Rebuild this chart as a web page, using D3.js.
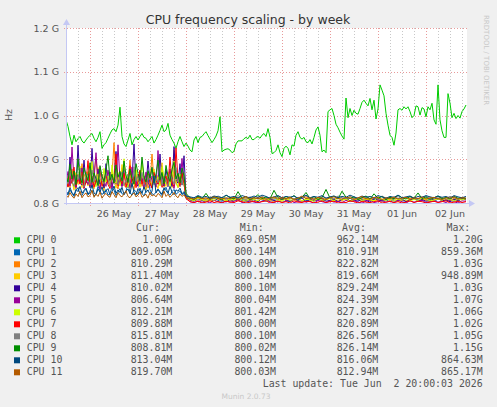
<!DOCTYPE html>
<html lang="en">
<head>
  <meta charset="UTF-8" />
  <title>CPU frequency scaling - by week</title>
  <script src="https://d3js.org/d3.v7.min.js"></script>
  <style>
    html, body { margin: 0; padding: 0; background: #f0f0f0; }
    svg { display: block; }
    text { font-family: "DejaVu Sans", sans-serif; fill: #555; }
    .mono { font-family: "DejaVu Sans Mono", monospace; font-size: 9.9px; white-space: pre; }
  </style>
</head>
<body>
  <svg width="497" height="407"></svg>

  <script>
    // Time window of the graph (UTC): 25 May 12:00 -> 02 Jun 20:00
    const startTime = Date.UTC(2026, 4, 25, 12);
    const endTime = Date.UTC(2026, 5, 2, 20);

    // sampling grids in hours from startTime
    const hoursFine = d3.range(0, 201);                                  // CPU 0, hourly
    const hoursMixed = d3.range(0, 61).concat(d3.range(62, 201, 2));     // others: hourly, then every 2h

    // values in MHz
    const cpu0 = [
      990, 975, 952, 933, 955, 940, 947, 952, 942, 937,
      944, 950, 955, 959, 948, 940, 950, 963, 925, 933,
      938, 948, 958, 967, 970, 963, 978, 1019, 952, 935,
      929, 944, 959, 933, 945, 952, 944, 952, 959, 950,
      948, 940, 946, 952, 937, 945, 955, 966, 978, 963,
      967, 982, 955, 945, 937, 925, 940, 952, 940, 929,
      937, 930, 921, 917, 944, 952, 938, 950, 952, 958,
      963, 954, 946, 938, 945, 953, 965, 997, 917, 921,
      923, 924, 921, 915, 918, 935, 942, 942, 942, 947,
      950, 947, 955, 945, 945, 950, 952, 948, 955, 959,
      952, 970, 950, 913, 915, 920, 933, 915, 906, 925,
      930, 925, 910, 933, 930, 955, 963, 950, 946, 950,
      940, 938, 945, 935, 950, 967, 974, 955, 917, 921,
      915, 1009, 1013, 1016, 1000, 980, 972, 962, 953, 946,
      1040, 995, 1016, 1000, 1012, 1005, 1003, 1016, 1030, 1035,
      1028, 1022, 1039, 1013, 1035, 992, 1015, 1070, 1058, 1045,
      1005, 978, 955, 950, 932, 960, 1013, 1016, 1012, 1020,
      1015, 1020, 1009, 995, 1000, 1022, 1020, 1001, 1018, 1015,
      997, 1020, 1013, 1028, 990, 980, 1070, 990, 965, 950,
      950, 1050, 1028, 995, 1005, 993, 1000, 994, 1009, 1015,
      1024
    ];
    const cpu1 = [
      825, 818, 830, 822, 815, 828, 835, 820, 817, 826,
      832, 819, 823, 829, 816, 821, 838, 827, 819, 824,
      831, 818, 822, 836, 829, 817, 825, 833, 821, 819,
      827, 845, 824, 818, 830, 826, 820, 834, 822, 816,
      828, 857, 830, 821, 819, 825, 832, 823, 817, 829,
      836, 822, 818, 826, 831, 820, 824, 828, 819, 823,
      812,
      808, 805, 811, 807, 803, 809, 812, 806, 804, 810,
      807, 805, 813, 808, 806, 802, 809, 811, 807, 804,
      810, 806, 808, 812, 805, 803, 809, 807, 811, 806,
      804, 808, 810, 805, 807, 813, 806, 803, 809, 808,
      805, 811, 807, 804, 810, 806, 808, 812, 805, 807,
      803, 809, 811, 806, 804, 808, 810, 807, 805, 812,
      806, 803, 809, 808, 805, 811, 807, 804, 810, 809
    ];
    const cpu2 = [
      842, 861, 835, 878, 850, 832, 866, 845, 890, 838,
      855, 872, 840, 836, 868, 905, 848, 833, 860, 842,
      875, 850, 838, 862, 938, 846, 832, 858, 880, 841,
      835, 852, 898, 845, 830, 866, 842, 875, 838, 850,
      868, 834, 846, 912, 851, 837, 863, 842, 881, 836,
      855, 847, 873, 839, 921, 848, 835, 862, 845, 868,
      815,
      810, 807, 813, 809, 806, 812, 815, 808, 811, 806,
      809, 814, 807, 810, 812, 805, 809, 813, 808, 811,
      806, 810, 815, 809, 807, 812, 808, 805, 811, 814,
      809, 806, 812, 810, 807, 813, 808, 811, 806, 809,
      815, 810, 807, 812, 809, 806, 811, 814, 808, 810,
      807, 812, 809, 806, 813, 810, 808, 811, 807, 809,
      814, 806, 810, 812, 808, 805, 811, 809, 813, 810
    ];
    const cpu3 = [
      848, 836, 862, 851, 829, 870, 843, 855, 835, 866,
      852, 839, 874, 846, 832, 858, 881, 840, 853, 828,
      865, 849, 837, 871, 856, 834, 862, 845, 888, 839,
      851, 866, 833, 858, 842, 875, 850, 836, 864, 847,
      830, 869, 854, 841, 878, 846, 833, 860, 892, 849,
      838, 867, 853, 835, 872, 845, 859, 837, 866, 850,
      814,
      806, 809, 803, 808, 811, 805, 807, 802, 810, 806,
      804, 809, 807, 803, 811, 806, 808, 804, 810, 805,
      807, 802, 809, 806, 812, 804, 808, 805, 803, 810,
      807, 804, 809, 806, 811, 803, 808, 805, 807, 810,
      804, 806, 809, 803, 808, 811, 805, 807, 804, 809,
      806, 810, 803, 808, 805, 807, 811, 804, 809, 806,
      803, 808, 810, 805, 807, 804, 809, 806, 811, 807
    ];
    const cpu4 = [
      860, 838, 905, 845, 872, 836, 932, 850, 841, 898,
      846, 866, 835, 925, 852, 840, 878, 843, 861, 834,
      890, 848, 871, 837, 856, 918, 842, 865, 839, 884,
      847, 836, 868, 852, 935, 845, 838, 874, 850, 862,
      841, 896, 849, 835, 870, 858, 843, 912, 846, 839,
      877, 851, 864, 838, 929, 853, 845, 890, 841, 908,
      816,
      807, 804, 810, 806, 803, 809, 805, 811, 807, 802,
      808, 805, 810, 806, 804, 809, 807, 803, 811, 805,
      808, 806, 802, 810, 807, 804, 809, 806, 811, 803,
      808, 805, 807, 810, 804, 806, 809, 803, 808, 811,
      805, 807, 804, 809, 806, 802, 810, 807, 805, 808,
      811, 804, 806, 809, 803, 807, 810, 805, 808, 804,
      806, 809, 811, 805, 807, 803, 808, 806, 810, 807
    ];
    const cpu5 = [
      845, 872, 839, 928, 851, 836, 864, 847, 880, 833,
      857, 842, 868, 836, 853, 915, 845, 831, 866, 850,
      838, 875, 847, 834, 861, 843, 933, 852, 837, 870,
      846, 858, 835, 882, 849, 840, 866, 844, 856, 833,
      871, 847, 838, 862, 851, 836, 920, 848, 865, 842,
      854, 837, 878, 846, 833, 861, 849, 838, 902, 844,
      813,
      803, 801, 805, 802, 804, 800, 806, 803, 801, 805,
      802, 804, 807, 801, 803, 805, 802, 800, 804, 806,
      803, 801, 805, 802, 804, 807, 801, 803, 805, 802,
      804, 800, 806, 803, 801, 805, 802, 804, 801, 806,
      803, 805, 802, 800, 804, 807, 801, 803, 805, 802,
      804, 801, 806, 803, 800, 805, 802, 804, 806, 801,
      803, 805, 802, 804, 801, 806, 803, 800, 805, 804
    ];
    const cpu6 = [
      856, 842, 875, 849, 836, 868, 852, 884, 845, 839,
      871, 858, 843, 895, 850, 837, 866, 854, 841, 879,
      848, 862, 836, 887, 852, 845, 870, 839, 858, 901,
      847, 836, 865, 851, 843, 876, 849, 838, 892, 855,
      841, 868, 850, 837, 873, 846, 860, 839, 883, 852,
      844, 871, 838, 859, 896, 847, 836, 866, 851, 842,
      817,
      808, 805, 811, 807, 804, 810, 806, 813, 808, 805,
      809, 806, 812, 807, 804, 810, 808, 805, 811, 806,
      809, 813, 807, 804, 810, 806, 808, 812, 805, 809,
      807, 804, 811, 806, 808, 810, 805, 812, 807, 809,
      804, 808, 811, 806, 810, 807, 805, 813, 808, 806,
      810, 804, 809, 807, 812, 805, 808, 806, 811, 809,
      805, 807, 810, 806, 812, 808, 804, 809, 807, 810
    ];
    const cpu7 = [
      851, 837, 866, 845, 882, 839, 856, 843, 871, 834,
      848, 897, 840, 862, 836, 853, 845, 878, 838, 850,
      866, 842, 833, 858, 846, 912, 839, 855, 844, 868,
      837, 852, 885, 841, 860, 835, 849, 874, 843, 857,
      838, 866, 847, 834, 870, 851, 843, 859, 836, 848,
      862, 840, 905, 846, 838, 926, 852, 841, 869, 845,
      810,
      803, 801, 804, 800, 802, 805, 801, 803, 800, 804,
      802, 801, 805, 803, 800, 802, 804, 801, 803, 805,
      800, 802, 804, 801, 803, 800, 805, 802, 801, 804,
      803, 800, 802, 805, 801, 803, 804, 800, 802, 801,
      805, 803, 800, 804, 802, 801, 803, 805, 800, 802,
      804, 801, 803, 800, 802, 805, 801, 804, 803, 800,
      802, 804, 801, 803, 805, 800, 802, 804, 801, 803
    ];
    const cpu8 = [
      858, 844, 871, 850, 838, 864, 853, 880, 845, 836,
      868, 852, 841, 875, 848, 860, 839, 886, 851, 843,
      869, 855, 837, 862, 848, 877, 842, 856, 871, 840,
      852, 866, 845, 838, 883, 850, 861, 843, 870, 846,
      837, 864, 853, 879, 842, 858, 846, 873, 840, 861,
      850, 838, 867, 855, 843, 881, 848, 860, 841, 869,
      818,
      812, 809, 815, 811, 808, 814, 810, 816, 812, 809,
      813, 810, 817, 811, 808, 814, 812, 809, 815, 811,
      813, 808, 816, 812, 810, 814, 809, 813, 811, 817,
      810, 812, 808, 815, 811, 813, 809, 816, 812, 810,
      814, 811, 808, 813, 815, 810, 812, 809, 816, 811,
      813, 810, 815, 808, 812, 814, 811, 809, 813, 816,
      810, 812, 814, 809, 811, 815, 812, 808, 813, 811
    ];
    const cpu9 = [
      862, 848, 889, 855, 873, 842, 901, 858, 846, 880,
      864, 851, 892, 847, 869, 856, 840, 884, 861, 849,
      875, 908, 852, 866, 845, 887, 859, 872, 850, 896,
      863, 847, 878, 856, 843, 890, 868, 851, 905, 860,
      848, 874, 857, 882, 846, 865, 898, 853, 870, 844,
      886, 861, 849, 877, 893, 855, 868, 846, 880, 862,
      822,
      812, 808, 816, 810, 822, 809, 814, 811, 807, 818,
      813, 809, 826, 811, 815, 808, 812, 819, 810, 814,
      809, 829, 812, 808, 815, 811, 817, 809, 813, 824,
      810, 815, 808, 812, 831, 811, 816, 809, 827, 813,
      810, 814, 808, 812, 816, 809, 821, 811, 815, 808,
      813, 810, 818, 812, 809, 815, 811, 823, 810, 814,
      808, 812, 816, 810, 813, 809, 815, 811, 812, 810
    ];
    const cpu10 = [
      828, 821, 835, 824, 818, 831, 826, 838, 822, 829,
      834, 820, 827, 841, 823, 819, 832, 825, 837, 821,
      828, 833, 818, 826, 839, 822, 830, 824, 836, 819,
      827, 832, 821, 845, 825, 818, 833, 828, 822, 837,
      824, 830, 819, 827, 862, 823, 831, 826, 820, 835,
      828, 822, 838, 825, 819, 830, 827, 834, 821, 826,
      816,
      814, 812, 817, 813, 815, 811, 816, 814, 812, 818,
      813, 815, 811, 817, 814, 812, 816, 813, 818, 815,
      811, 814, 817, 812, 815, 813, 816, 811, 814, 818,
      812, 815, 813, 817, 811, 814, 816, 812, 815, 813,
      818, 814, 811, 816, 813, 815, 812, 817, 814, 811,
      815, 813, 818, 812, 814, 816, 811, 815, 813, 817,
      814, 812, 816, 813, 815, 811, 817, 814, 812, 815
    ];
    const cpu11 = [
      818, 813, 824, 816, 811, 821, 815, 827, 812, 819,
      823, 814, 817, 829, 813, 820, 815, 825, 811, 818,
      822, 816, 813, 826, 819, 812, 824, 817, 814, 821,
      828, 815, 812, 819, 823, 814, 818, 826, 813, 817,
      820, 811, 825, 816, 819, 814, 822, 818, 812, 827,
      815, 820, 813, 818, 824, 816, 812, 821, 815, 819,
      811,
      811, 809, 813, 810, 812, 808, 814, 811, 809, 812,
      810, 813, 808, 811, 815, 809, 812, 810, 813, 808,
      811, 814, 809, 812, 810, 813, 808, 811, 816, 810,
      812, 809, 813, 811, 808, 812, 814, 810, 809, 813,
      811, 808, 812, 815, 810, 809, 813, 811, 808, 812,
      810, 814, 809, 811, 813, 808, 812, 810, 814, 809,
      811, 813, 810, 808, 812, 811, 814, 809, 812, 811
    ];

    const cpuNames = ["CPU 0", "CPU 1", "CPU 2", "CPU 3", "CPU 4", "CPU 5",
                      "CPU 6", "CPU 7", "CPU 8", "CPU 9", "CPU 10", "CPU 11"];
    const cpuColors = ["#00CC00", "#0066B3", "#FF8000", "#FFCC00", "#330099", "#990099",
                       "#CCFF00", "#FF0000", "#808080", "#008F00", "#00487D", "#B35A00"];
    const curVals = ["1.00G", "809.05M", "810.29M", "811.40M", "810.02M", "806.64M",
                     "812.21M", "809.88M", "815.81M", "808.81M", "813.04M", "819.70M"];
    const minVals = ["869.05M", "800.14M", "800.09M", "800.14M", "800.10M", "800.04M",
                     "801.42M", "800.00M", "800.10M", "800.02M", "800.12M", "800.03M"];
    const avgVals = ["962.14M", "810.91M", "822.82M", "819.66M", "829.24M", "824.39M",
                     "827.82M", "820.89M", "826.56M", "826.14M", "816.06M", "812.94M"];
    const maxVals = ["1.20G", "859.36M", "1.03G", "948.89M", "1.03G", "1.07G",
                     "1.06G", "1.02G", "1.05G", "1.15G", "864.63M", "865.17M"];
    const yTicks = [800, 900, 1000, 1100, 1200];
    const lastUpdate = "Last update: Tue Jun  2 20:00:03 2026";

    const allValues = [cpu0, cpu1, cpu2, cpu3, cpu4, cpu5, cpu6, cpu7, cpu8, cpu9, cpu10, cpu11];

    const svg = d3.select("svg");
    const plot = { left: 66, right: 467, top: 28, bottom: 203 };

    const x = d3.scaleUtc()
      .domain([startTime, endTime])
      .range([plot.left, plot.right - 1]);
    const y = d3.scaleLinear()
      .domain([800, 1200])
      .range([plot.bottom, plot.top]);

    // plot background
    svg.append("rect")
      .attr("x", plot.left).attr("y", plot.top)
      .attr("width", plot.right - plot.left).attr("height", plot.bottom - plot.top)
      .attr("fill", "#fff");

    // vertical grid: grey every 6 hours, red at midnight
    const sixHours = d3.utcHour.every(6).range(new Date(startTime), new Date(endTime + 1));
    const grid = svg.append("g").attr("shape-rendering", "crispEdges");
    grid.selectAll(".vminor")
      .data(sixHours.filter(d => d.getUTCHours() !== 0))
      .join("line")
      .attr("x1", d => Math.round(x(d)) + 0.5).attr("x2", d => Math.round(x(d)) + 0.5)
      .attr("y1", plot.top).attr("y2", plot.bottom + 2)
      .attr("stroke", "#c8c8c8").attr("stroke-dasharray", "1,2");
    const midnights = d3.utcDay.range(new Date(startTime), new Date(endTime));
    grid.selectAll(".vmajor")
      .data(midnights)
      .join("line")
      .attr("x1", d => Math.round(x(d)) + 0.5).attr("x2", d => Math.round(x(d)) + 0.5)
      .attr("y1", plot.top).attr("y2", plot.bottom + 3)
      .attr("stroke", "#e89a9a").attr("stroke-dasharray", "1,2");
    grid.selectAll(".hmajor")
      .data(yTicks)
      .join("line")
      .attr("x1", plot.left - 2).attr("x2", plot.right)
      .attr("y1", d => Math.round(y(d)) + 0.5).attr("y2", d => Math.round(y(d)) + 0.5)
      .attr("stroke", "#e89a9a").attr("stroke-dasharray", "1,2");

    // series
    svg.append("clipPath").attr("id", "plotclip")
      .append("rect")
      .attr("x", plot.left).attr("y", plot.top - 1)
      .attr("width", plot.right - plot.left).attr("height", plot.bottom - plot.top + 2);

    const line = d3.line()
      .x(d => x(startTime + d.h * 3600e3))
      .y(d => y(d.v));

    const series = cpuNames.map((name, i) => {
      const hours = i === 0 ? hoursFine : hoursMixed;
      const vals = allValues[i];
      const n = Math.min(hours.length, vals.length);
      return { name, color: cpuColors[i], points: d3.range(n).map(k => ({ h: hours[k], v: vals[k] })) };
    });

    svg.append("g").attr("clip-path", "url(#plotclip)")
      .selectAll("path")
      .data(series)
      .join("path")
      .attr("fill", "none")
      .attr("stroke", d => d.color)
      .attr("stroke-width", 1)
      .attr("stroke-linejoin", "round")
      .attr("d", d => line(d.points));

    // axes with arrows
    const axisColor = "#c4c8f4";
    svg.append("line")
      .attr("x1", plot.left + 0.5).attr("x2", plot.left + 0.5)
      .attr("y1", plot.bottom + 2).attr("y2", plot.top - 4)
      .attr("stroke", axisColor).attr("shape-rendering", "crispEdges");
    svg.append("path")
      .attr("d", `M${plot.left - 3},${plot.top - 3}L${plot.left + 0.5},${plot.top - 9}L${plot.left + 4},${plot.top - 3}Z`)
      .attr("fill", axisColor);
    svg.append("line")
      .attr("x1", plot.left - 2).attr("x2", plot.right + 2)
      .attr("y1", plot.bottom + 0.5).attr("y2", plot.bottom + 0.5)
      .attr("stroke", axisColor).attr("shape-rendering", "crispEdges");
    svg.append("path")
      .attr("d", `M${plot.right + 2},${plot.bottom - 3}L${plot.right + 8},${plot.bottom + 0.5}L${plot.right + 2},${plot.bottom + 4}Z`)
      .attr("fill", axisColor);

    // y tick labels
    svg.append("g")
      .selectAll("text")
      .data(yTicks)
      .join("text")
      .attr("x", 59).attr("y", d => y(d) + 3.5)
      .attr("text-anchor", "end")
      .attr("font-size", "9.5px")
      .text(d => (d / 1000).toFixed(1) + " G");

    // x labels at noon
    const noons = midnights.map(d => d3.utcHour.offset(d, 12)).filter(d => +d < endTime);
    const fmt = d3.utcFormat("%d %b");
    svg.append("g")
      .selectAll("text")
      .data(noons)
      .join("text")
      .attr("x", d => x(d)).attr("y", 216.5)
      .attr("text-anchor", "middle")
      .attr("font-size", "9.5px")
      .text(d => fmt(d));

    // title & side texts
    svg.append("text")
      .attr("x", 248).attr("y", 24)
      .attr("text-anchor", "middle")
      .attr("font-size", "12.5px")
      .style("fill", "#333")
      .text("CPU frequency scaling - by week");

    svg.append("text")
      .attr("transform", "translate(12,115) rotate(-90)")
      .attr("text-anchor", "middle")
      .attr("font-size", "9.5px")
      .text("Hz");

    svg.append("text")
      .attr("transform", "translate(484,15) rotate(90)")
      .attr("font-size", "7px")
      .style("fill", "#c8c8c8")
      .text("RRDTOOL / TOBI OETIKER");

    svg.append("text")
      .attr("x", 246).attr("y", 399)
      .attr("text-anchor", "middle")
      .attr("font-size", "7.5px")
      .style("fill", "#c8c8c8")
      .text("Munin 2.0.73");

    // legend
    const legendTop = 243.3;
    const rowH = 12;
    const valueCols = [172.3, 276, 378.3, 482.7];
    const headers = ["Cur:", "Min:", "Avg:", "Max:"];
    const legend = svg.append("g");

    legend.selectAll(".hdr")
      .data(headers)
      .join("text")
      .attr("class", "mono")
      .attr("x", (d, i) => valueCols[i] - 12.4)
      .attr("y", legendTop - rowH)
      .attr("text-anchor", "end")
      .text(d => d);

    const rows = legend.selectAll(".row")
      .data(cpuNames)
      .join("g")
      .attr("transform", (d, i) => `translate(0,${legendTop + i * rowH})`);

    rows.append("rect")
      .attr("x", 14).attr("y", -6)
      .attr("width", 6).attr("height", 6)
      .attr("fill", (d, i) => cpuColors[i]);
    rows.append("text")
      .attr("class", "mono")
      .attr("x", 26.7)
      .text(d => d);

    [curVals, minVals, avgVals, maxVals].forEach((col, c) => {
      rows.append("text")
        .attr("class", "mono")
        .attr("x", valueCols[c])
        .attr("text-anchor", "end")
        .text((d, i) => col[i]);
    });

    legend.append("text")
      .attr("class", "mono")
      .attr("x", valueCols[3])
      .attr("y", legendTop + cpuNames.length * rowH)
      .attr("text-anchor", "end")
      .text(lastUpdate);
  </script>
</body>
</html>
